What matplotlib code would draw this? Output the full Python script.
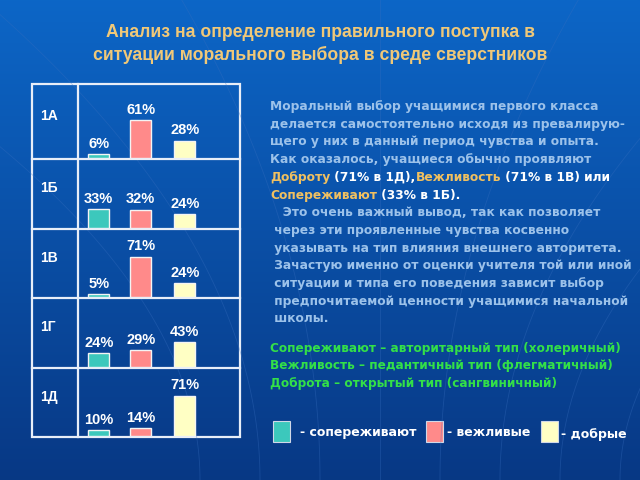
import numpy as np
import matplotlib.pyplot as plt
from matplotlib.patches import Rectangle

plt.rcParams['font.family'] = ['Liberation Sans', 'DejaVu Sans']
plt.rcParams['font.weight'] = 'bold'

classes = ['1А', '1Б', '1В', '1Г', '1Д']
sopere = [6, 33, 5, 24, 10]
vezhl = [61, 32, 71, 29, 14]
dobr = [28, 24, 24, 43, 71]
series_names = ['- сопереживают', '- вежливые', '- добрые']
colors = ['#3cc8bc', '#ff8a8a', '#ffffc4']

title = 'Анализ на определение правильного поступка в\nситуации морального выбора в среде сверстников'

body = [
    [('Моральный выбор учащимися первого класса', 'b')],
    [('делается самостоятельно исходя из превалирую-', 'b')],
    [('щего у них в данный период чувства и опыта.', 'b')],
    [('Как оказалось, учащиеся обычно проявляют', 'b')],
    [('Доброту', 'y'), (' (71% в 1Д),', 'w'), ('Вежливость', 'y'), (' (71% в 1В) или', 'w')],
    [('Сопереживают', 'y'), (' (33% в 1Б).', 'w')],
    [('   Это очень важный вывод, так как позволяет', 'b')],
    [(' через эти проявленные чувства косвенно', 'b')],
    [(' указывать на тип влияния внешнего авторитета.', 'b')],
    [(' Зачастую именно от оценки учителя той или иной', 'b')],
    [(' ситуации и типа его поведения зависит выбор', 'b')],
    [(' предпочитаемой ценности учащимися начальной', 'b')],
    [(' школы.', 'b')],
]
green_lines = ['Сопереживают – авторитарный тип (холеричный)',
               'Вежливость – педантичный тип (флегматичный)',
               'Доброта – открытый тип (сангвиничный)']
tcol = {'b': '#9cc2ea', 'y': '#f0c060', 'w': 'white'}
wide = ['DejaVu Sans']

fig = plt.figure(figsize=(6.4, 4.8), dpi=100)

# background gradient
bg = fig.add_axes([0, 0, 1, 1])
grad = np.linspace(0, 1, 256).reshape(-1, 1)
top = np.array([0.05, 0.40, 0.78])
bot = np.array([0.03, 0.22, 0.52])
img = top + (bot - top) * grad[..., None]
bg.imshow(img, extent=[0, 640, 480, 0], aspect='auto')
bg.set_xlim(0, 640)
bg.set_ylim(480, 0)
bg.axis('off')
# faint decorative curves
for k in range(8):
    xs = np.linspace(0, 480, 100)
    bg.plot(200 + 60 * k + 0.0006 * (xs - 480) ** 2 * (k - 3), xs, color='#3a70c0', lw=0.6, alpha=0.35)

fig.text(0.5, 1 - 44 / 480, title, ha='center', va='center', color='#f0c878',
         fontsize=12.7, linespacing=1.3)

# table grid
row_edges = [84, 159, 229, 298, 368, 437]
tx0, tx1, tdiv = 32, 240, 78
bg.add_patch(Rectangle((tx0, row_edges[0]), tx1 - tx0, row_edges[-1] - row_edges[0],
                       fill=False, ec='#e8eef8', lw=1.6))
for y in row_edges[1:-1]:
    bg.plot([tx0, tx1], [y, y], color='#e8eef8', lw=1.6)
bg.plot([tdiv, tdiv], [row_edges[0], row_edges[-1]], color='#e8eef8', lw=1.6)

x = np.array([0, 1, 2.05])
for i, cls in enumerate(classes):
    y0, y1 = row_edges[i], row_edges[i + 1]
    bg.text(40, (y0 + y1) / 2 - 6, cls, color='white', fontsize=10, va='center')
    ax = fig.add_axes([(tdiv + 1) / 640, 1 - (y1 - 1) / 480, (tx1 - tdiv - 2) / 640, (y1 - y0 - 2) / 480])
    ax.set_facecolor('none')
    vals = [sopere[i], vezhl[i], dobr[i]]
    ax.bar(x, vals, width=0.5, color=colors, edgecolor='#f4f4f4', linewidth=1)
    for xi, v in zip(x, vals):
        ax.text(xi, v + 6, f'{v}%', ha='center', va='bottom', color='white', fontsize=10.5)
    ax.set_xlim(-0.47, 3.34)
    ax.set_ylim(0, 118)
    ax.axis('off')

# right text block
def seg_line(xp, yp, segs, size):
    t = None
    for s, c in segs:
        if t is None:
            t = bg.text(xp, yp, s, color=tcol[c], fontsize=size, va='baseline', family=wide)
        else:
            t = bg.annotate(s, xy=(1, 0), xycoords=t, va='bottom', color=tcol[c],
                            fontsize=size, family=wide)

for j, segs in enumerate(body):
    seg_line(270, 110 + j * 17.7, segs, 8.8)

for j, s in enumerate(green_lines):
    bg.text(270, 352 + j * 17.5, s, color='#33e048', fontsize=8.75, va='baseline', family=wide)

# legend
lx = [273, 426, 541]
tx = [300, 447, 561]
ty = [436, 436, 438]
for c, name, a, b, yb in zip(colors, series_names, lx, tx, ty):
    bg.add_patch(Rectangle((a, 421), 17, 21, fc=c, ec='#d0d8e8', lw=0.8))
    bg.text(b, yb, name, color='white', fontsize=9, va='baseline', family=wide)

fig.savefig('out.png', dpi=100)
